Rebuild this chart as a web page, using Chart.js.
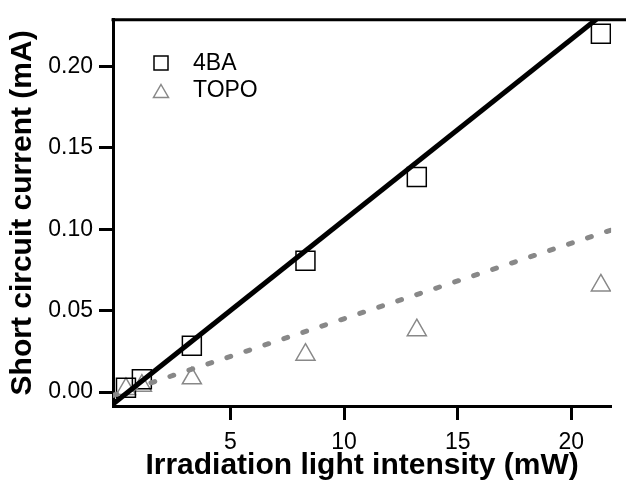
<!DOCTYPE html>
<html><head><meta charset="utf-8">
<script src="https://cdn.jsdelivr.net/npm/chart.js@4.4.1/dist/chart.umd.min.js"></script>
<style>html,body{margin:0;padding:0;background:#fff;} #wrap{width:626px;height:481px;}</style>
</head><body><div id="wrap"><canvas id="c" width="626" height="481"></canvas></div>
<script>
// Data
const intensity = [0.4, 1.1, 3.3, 8.3, 13.2, 21.3];
const current4BA = [0.0027, 0.0079, 0.0285, 0.0806, 0.132, 0.220];
const currentTOPO = [0.002, 0.004, 0.0085, 0.023, 0.038, 0.0655];
const fitX = [-0.17, 21.75];
const fit4BA = [-0.0073, 0.236];
const fitTOPO = [-0.002, 0.0995];
const xTicks = [5, 10, 15, 20];
const yTicks = [0, 0.05, 0.10, 0.15, 0.20];
const seriesNames = ['4BA', 'TOPO'];
const xTitle = 'Irradiation light intensity (mW)';
const yTitle = 'Short circuit current (mA)';

const FONT = "'Liberation Sans', Arial, Helvetica, sans-serif";
Chart.defaults.font.family = FONT;
Chart.defaults.color = '#000';

const toPts = (xs, ys) => xs.map((x, i) => ({x: x, y: ys[i]}));

const frame = {
  id: 'frame',
  afterDraw(chart) {
    const {ctx, chartArea} = chart;
    ctx.save();
    ctx.strokeStyle = '#000';
    ctx.lineWidth = 3;
    ctx.beginPath();
    ctx.moveTo(chartArea.left - 1.5, chartArea.top);
    ctx.lineTo(chart.width, chartArea.top);
    ctx.stroke();
    // legend
    ctx.lineWidth = 1.5;
    ctx.strokeStyle = '#000';
    ctx.strokeRect(154, 56, 14, 14);
    ctx.strokeStyle = '#888';
    ctx.beginPath();
    ctx.moveTo(161, 84.5);
    ctx.lineTo(168.5, 97.5);
    ctx.lineTo(153.5, 97.5);
    ctx.closePath();
    ctx.stroke();
    ctx.fillStyle = '#000';
    ctx.font = '23px ' + FONT;
    ctx.textBaseline = 'middle';
    ctx.textAlign = 'left';
    ctx.fillText(seriesNames[0], 193, 64);
    ctx.fillText(seriesNames[1], 193, 91);
    ctx.restore();
  }
};

new Chart(document.getElementById('c'), {
  type: 'scatter',
  data: {
    datasets: [
      {label: seriesNames[0] + ' fit', data: toPts(fitX, fit4BA), showLine: true, pointRadius: 0,
       borderColor: '#000', borderWidth: 5, clip: 0},
      {label: seriesNames[1] + ' fit', data: toPts(fitX, fitTOPO), showLine: true, pointRadius: 0,
       borderColor: '#888', borderWidth: 5, borderDash: [4, 16], borderCapStyle: 'round', clip: 0},
      {label: seriesNames[0], data: toPts(intensity, current4BA), pointStyle: 'rect', pointRadius: 13.4,
       borderColor: '#000', backgroundColor: 'rgba(0,0,0,0)', pointBorderWidth: 1.5, showLine: false},
      {label: seriesNames[1], data: toPts(intensity, currentTOPO), pointStyle: 'triangle', pointRadius: 11,
       borderColor: '#888', backgroundColor: 'rgba(0,0,0,0)', pointBorderWidth: 1.5, showLine: false}
    ]
  },
  options: {
    responsive: false,
    animation: false,
    devicePixelRatio: 1,
    layout: {padding: {left: 0, right: 0, top: 15, bottom: 0}},
    plugins: {legend: {display: false}, tooltip: {enabled: false}},
    scales: {
      x: {
        type: 'linear', min: -0.17, max: 21.75,
        afterBuildTicks: s => { s.ticks = xTicks.map(v => ({value: v})); },
        afterFit: s => { s.height = 75; },
        ticks: {font: {size: 23}, color: '#000', padding: 9, autoSkip: false, maxRotation: 0,
                callback: v => String(v)},
        grid: {drawOnChartArea: false, drawTicks: true, tickLength: 14, tickWidth: 3, tickColor: '#000'},
        border: {display: true, width: 3, color: '#000'},
        title: {display: true, text: xTitle, font: {size: 30, weight: 'bold'}, color: '#000', padding: {top: 0, bottom: -3}}
      },
      y: {
        type: 'linear', min: -0.0085, max: 0.2285,
        afterBuildTicks: s => { s.ticks = yTicks.map(v => ({value: v})); },
        afterFit: s => { s.width = 113; },
        ticks: {font: {size: 23}, color: '#000', padding: 6, autoSkip: false,
                callback: v => Number(v).toFixed(2)},
        grid: {drawOnChartArea: false, drawTicks: true, tickLength: 14, tickWidth: 3, tickColor: '#000'},
        border: {display: true, width: 3, color: '#000'},
        title: {display: true, text: yTitle, font: {size: 30, weight: 'bold'}, color: '#000', padding: {top: 5, bottom: 0}}
      }
    }
  },
  plugins: [frame]
});
</script>
</body></html>
